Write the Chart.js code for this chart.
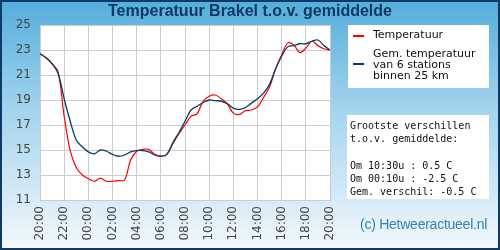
<!DOCTYPE html>
<html>
<head>
<meta charset="utf-8">
<script src="https://cdn.jsdelivr.net/npm/chart.js@4"></script>
<style>
  html, body { margin: 0; padding: 0; }
  #frame {
    position: absolute; left: 0; top: 0; width: 500px; height: 250px;
    box-sizing: border-box; border: 2px solid #0d3b66;
    background: linear-gradient(to bottom, #55aedc 0%, #a6d5ee 45%, #f2f8fc 100%);
  }
  #chart { position: absolute; left: 0; top: 0; }
  .title {
    position: absolute; left: 0; top: 2px; width: 500px; text-align: center;
    font: bold 16px "Liberation Sans", Arial, sans-serif; color: #0d3a63;
  }
  .box { position: absolute; background: #fff; }
  .legend { left: 348px; top: 25px; width: 141px; height: 63px;
    font: 11px "DejaVu Sans", sans-serif; color: #111; }
  .legend .sw { position: absolute; left: 5px; width: 11px; height: 2px; }
  .legend .txt { position: absolute; left: 25px; line-height: 11px; }
  .stats { left: 347px; top: 115px; width: 142px; height: 84px;
    font: 10px "DejaVu Sans Mono", monospace; color: #111; }
  .stats pre { margin: 0; padding: 4px 0 0 3px; font: inherit; line-height: 13.3px; }
  .copy { position: absolute; left: 360px; top: 216px; letter-spacing: -0.25px;
    font: 14px "Liberation Sans", Arial, sans-serif; color: #3a80ab; }
</style>
</head>
<body>
<div id="frame"></div>
<canvas id="chart" width="500" height="250"></canvas>
<div class="title">Temperatuur Brakel t.o.v. gemiddelde</div>
<div class="box legend">
  <div class="sw" style="top:10px;background:#ff0000"></div>
  <div class="txt" style="top:4px">Temperatuur</div>
  <div class="sw" style="top:38px;background:#0b3c64"></div>
  <div class="txt" style="top:23px">Gem. temperatuur<br>van 6 stations<br>binnen 25 km</div>
</div>
<div class="box stats"><pre>Grootste verschillen
t.o.v. gemiddelde:

Om 10:30u : 0.5 C
Om 00:10u : -2.5 C
Gem. verschil: -0.5 C</pre></div>
<div class="copy">(c) Hetweeractueel.nl</div>
<script>
// half-hour steps from 20:00 to 20:00 the next day
const times = [
  '20:00','20:30','21:00','21:30','22:00','22:30','23:00','23:30',
  '00:00','00:30','01:00','01:30','02:00','02:30','03:00','03:30',
  '04:00','04:30','05:00','05:30','06:00','06:30','07:00','07:30',
  '08:00','08:30','09:00','09:30','10:00','10:30','11:00','11:30',
  '12:00','12:30','13:00','13:30','14:00','14:30','15:00','15:30',
  '16:00','16:30','17:00','17:30','18:00','18:30','19:00','19:30','20:00'
];

const temperatuur = [
  22.7, 22.35, 21.9, 21.25, 17.7, 14.95, 13.6, 13.0,
  12.7, 12.5, 12.75, 12.5, 12.5, 12.55, 12.6, 14.2,
  14.9, 15.05, 15.05, 14.65, 14.5, 14.65, 15.5, 16.3,
  17.0, 17.7, 17.9, 18.9, 19.3, 19.4, 19.1, 18.7,
  17.95, 17.85, 18.15, 18.2, 18.45, 19.2, 20.05, 21.5,
  22.6, 23.55, 23.4, 22.8, 23.15, 23.7, 23.35, 23.1, 23.0
];

const gemiddelde = [
  22.7, 22.4, 21.9, 21.1, 19.1, 17.3, 15.8, 15.25,
  14.85, 14.7, 15.0, 14.9, 14.65, 14.5, 14.6, 14.85,
  14.95, 14.95, 14.85, 14.6, 14.5, 14.65, 15.6, 16.4,
  17.3, 18.2, 18.5, 18.8, 19.0, 18.95, 18.9, 18.7,
  18.35, 18.25, 18.4, 18.75, 19.1, 19.55, 20.25, 21.5,
  22.5, 23.25, 23.35, 23.5, 23.5, 23.7, 23.8, 23.35, 23.0
];

const plotBg = {
  id: 'plotBg',
  beforeDraw(chart) {
    const a = chart.chartArea;
    chart.ctx.save();
    chart.ctx.fillStyle = '#ffffff';
    chart.ctx.fillRect(a.left, a.top, a.right - a.left, a.bottom - a.top);
    chart.ctx.restore();
  }
};

const tickFont = { family: 'DejaVu Sans', size: 12 };

new Chart(document.getElementById('chart'), {
  type: 'line',
  data: {
    labels: times,
    datasets: [
      {
        label: 'Gem. temperatuur van 6 stations binnen 25 km',
        data: gemiddelde,
        borderColor: '#0b3c64',
        borderWidth: 1.3,
        pointRadius: 0,
        tension: 0.35
      },
      {
        label: 'Temperatuur',
        data: temperatuur,
        borderColor: '#ff0000',
        borderWidth: 1.2,
        pointRadius: 0,
        tension: 0.35
      }
    ]
  },
  options: {
    responsive: false,
    animation: false,
    layout: { padding: { left: 0, top: 25, right: 170, bottom: 0 } },
    plugins: { legend: { display: false }, tooltip: { enabled: false } },
    scales: {
      x: {
        grid: { color: '#cccccc', drawTicks: false },
        border: { color: '#cccccc' },
        ticks: {
          autoSkip: false, maxRotation: 90, minRotation: 90,
          color: '#444', font: tickFont, padding: 6,
          callback: (v, i) => (i % 4 === 0 ? times[i] : null)
        },
        afterFit: s => { s.height = 50; }
      },
      y: {
        min: 11, max: 25,
        grid: { color: '#cccccc', drawTicks: false },
        border: { color: '#cccccc' },
        ticks: { stepSize: 2, color: '#444', font: tickFont, padding: 9 },
        afterFit: s => { s.width = 40; }
      }
    }
  },
  plugins: [plotBg]
});
</script>
</body>
</html>
